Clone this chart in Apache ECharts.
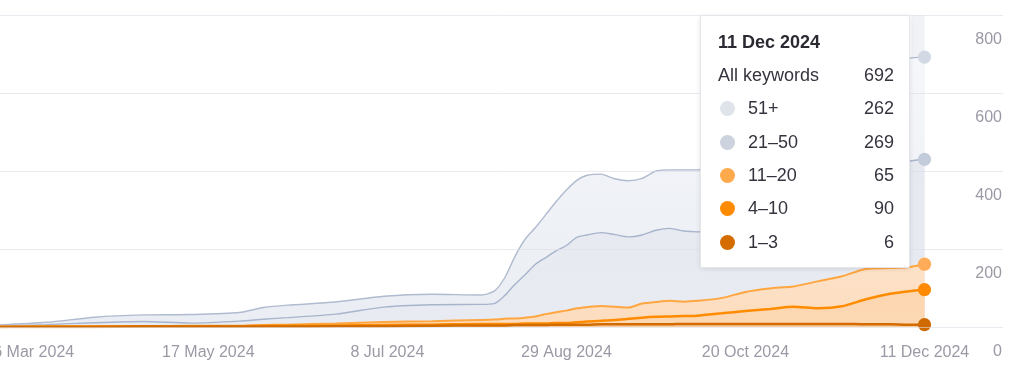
<!DOCTYPE html>
<html><head><meta charset="utf-8">
<script src="https://cdn.jsdelivr.net/npm/echarts@6/dist/echarts.min.js"></script>
<style>html,body{margin:0;padding:0;background:#fff}#c{width:1024px;height:371px}</style>
</head><body><div id="c"></div>
<script>
const dates = ['2024-03-17','2024-03-31','2024-04-14','2024-04-28','2024-05-12','2024-05-26','2024-06-02','2024-06-09','2024-06-23','2024-07-07',
'2024-07-21','2024-08-04','2024-08-08','2024-08-11','2024-08-14','2024-08-17','2024-08-20','2024-08-23','2024-08-26','2024-08-29',
'2024-09-01','2024-09-04','2024-09-08','2024-09-12','2024-09-16','2024-09-20','2024-09-24','2024-09-28','2024-10-02','2024-10-06',
'2024-10-13','2024-10-20','2024-10-27','2024-11-03','2024-11-10','2024-11-17','2024-11-24','2024-12-01','2024-12-06','2024-12-11'];
const pos1to3 = [0,0,0,1,1,1,1,1,2,2, 3,4,4,4,5,5,5,5,6,6, 6,6,7,7,7,7,7,7,8,8, 8,8,8,8,8,8,7,7,6,6];
const pos4to10 = [0,1,1,1,1,1,2,2,2,3, 3,4,4,4,3,4,4,4,4,4, 6,8,9,11,14,17,19,20,20,21, 27,33,38,44,40,45,64,78,85,90];
const pos11to20 = [1,0,1,0,1,1,2,3,5,8, 9,10,11,13,14,15,18,24,28,32, 36,37,38,34,29,36,38,40,37,38, 39,49,53,52,69,77,78,66,62,65];
const pos21to50 = [1,5,9,12,7,12,15,18,24,38, 42,40,41,59,87,110,134,145,157,167, 182,185,188,185,181,176,184,186,181,177, 181,180,191,206,218,230,236,254,271,269];
const pos51plus = [3,6,14,17,22,22,30,32,31,28, 27,24,32,45,71,91,94,110,126,142, 146,153,150,143,144,145,152,150,157,159, 165,175,185,200,215,230,245,260,264,262];
const seriesNames = ['1–3','4–10','11–20','21–50','51+'];
const seriesValues = [pos1to3,pos4to10,pos11to20,pos21to50,pos51plus];
const xLabelDates = ['2024-03-26','2024-05-17','2024-07-08','2024-08-29','2024-10-20','2024-12-11'];
const xDayMin = -8.5, xDayMax = 282.8;          // days relative to first label date
const yMin = 0, yMax = 800, yStep = 200;
const totalLabel = 'All keywords';
const months = ['Jan','Feb','Mar','Apr','May','Jun','Jul','Aug','Sep','Oct','Nov','Dec'];

const styles = [
  {line:'#d26c00', dot:'#d06a00', tip:'#d46c00', w:2.5, a0:'#f9cc9f', a1:'#f9cc9f'},
  {line:'#ff8c00', dot:'#ff8a00', tip:'#ff8c00', w:2.5, a0:'#fcd6b0', a1:'#fcd8b4'},
  {line:'#ffa640', dot:'#ffab57', tip:'#ffa94d', w:2, a0:'#fde2c8', a1:'#fddcbe'},
  {line:'#a7b5cc', dot:'#c3ccdb', tip:'#ccd3de', w:1.4, a0:'#e6e9f0', a1:'#e8ebf1'},
  {line:'#b0bbcf', dot:'#d3d9e4', tip:'#dfe3ea', w:1.4, a0:'#f5f7fa', a1:'#eaedf3'}
];
const last = dates.length - 1;
const DAY = 86400000;
function parseD(s){const p=s.split('-').map(Number);return Date.UTC(p[0],p[1]-1,p[2]);}
const origin = parseD(xLabelDates[0]);
const toDay = s => Math.round((parseD(s)-origin)/DAY);
function fmtDay(n){const d=new Date(origin+Math.round(n)*DAY);return d.getUTCDate()+' '+months[d.getUTCMonth()]+' '+d.getUTCFullYear();}

// cumulative (stacked) totals, bottom band first
const cumulative = seriesValues.map((arr,k)=>arr.map((_,i)=>{let s=0;for(let j=0;j<=k;j++)s+=seriesValues[j][i];return s;}));

const series = seriesNames.map((name,k)=>({
  name, type:'line', smooth:0.25, animation:false,
  symbol:'circle', showSymbol:true, showAllSymbol:true,
  symbolSize:(v,p)=> p.dataIndex===last ? 12 : 0,
  lineStyle:{color:styles[k].line, width:styles[k].w},
  itemStyle:{color:styles[k].dot},
  areaStyle:{color:new echarts.graphic.LinearGradient(0,0,0,1,[{offset:0,color:styles[k].a0},{offset:1,color:styles[k].a1}]), opacity:1},
  emphasis:{disabled:true},
  z: 10 - k,
  data: dates.map((d,i)=>[toDay(d), cumulative[k][i]]),
  markArea: k===0 ? {silent:true, itemStyle:{color:'rgba(200,207,220,0.28)'}, data:[[{xAxis:toDay(dates[last])-3.8},{xAxis:toDay(dates[last])}]]} : undefined
}));

const chart = echarts.init(document.getElementById('c'));
const font = "'Liberation Sans', Arial, sans-serif";
chart.setOption({
  animation:false,
  textStyle:{fontFamily:font},
  grid:{left:0,right:21,top:15,bottom:44, containLabel:false, outerBoundsMode:'none'},
  xAxis:{type:'value', min:xDayMin, max:xDayMax, z:20,
    axisLine:{show:false}, axisTick:{show:false}, splitLine:{show:false},
    axisLabel:{customValues:xLabelDates.map(toDay), formatter:(v)=>fmtDay(v), color:'#9a9aa6', fontSize:16, margin:18, hideOverlap:false}
  },
  yAxis:{type:'value', position:'right', min:yMin, max:yMax, interval:yStep, z:20,
    axisLine:{show:false}, axisTick:{show:false},
    splitLine:{lineStyle:{color:'rgba(220,222,230,0.6)', width:1}},
    axisLabel:{inside:true, margin:1, color:'#9a9aa6', fontSize:16, verticalAlign:'top', padding:[17,0,0,0]}
  },
  tooltip:{trigger:'axis', alwaysShowContent:true, triggerOn:'none', transitionDuration:0,
    axisPointer:{type:'none'},
    position:[700,15], backgroundColor:'#fff', borderColor:'#e4e5ea', borderWidth:1, padding:[9,15,9,17],
    extraCssText:'width:210px;height:253px;box-sizing:border-box;border-radius:2px;box-shadow:0 1px 5px rgba(0,0,0,0.10);',
    formatter:(params)=>{
      const idx = (Array.isArray(params)?params[0]:params).dataIndex;
      let total = 0; seriesValues.forEach(a=>total+=a[idx]);
      const row = (dot,label,val)=>'<div style="display:flex;align-items:center;height:33.3px;font-size:18px;color:#34343f">'+
        (dot?'<span style="display:inline-block;width:15px;height:15px;border-radius:50%;background:'+dot+';margin:0 13px 0 2px"></span>':'')+
        '<span style="flex:1">'+label+'</span><span>'+val+'</span></div>';
      let h = '<div style="font-family:Liberation Sans, Arial, sans-serif;">';
      h += '<div style="height:34px;line-height:34px;font-weight:bold;font-size:18px;color:#2a2a33">'+fmtDay(toDay(dates[idx]))+'</div>';
      h += row(null,totalLabel,total);
      for(let k=seriesNames.length-1;k>=0;k--) h += row(styles[k].tip, seriesNames[k], seriesValues[k][idx]);
      return h+'</div>';
    }
  },
  series
});
chart.dispatchAction({type:'showTip', seriesIndex:0, dataIndex:last});
</script></body></html>
